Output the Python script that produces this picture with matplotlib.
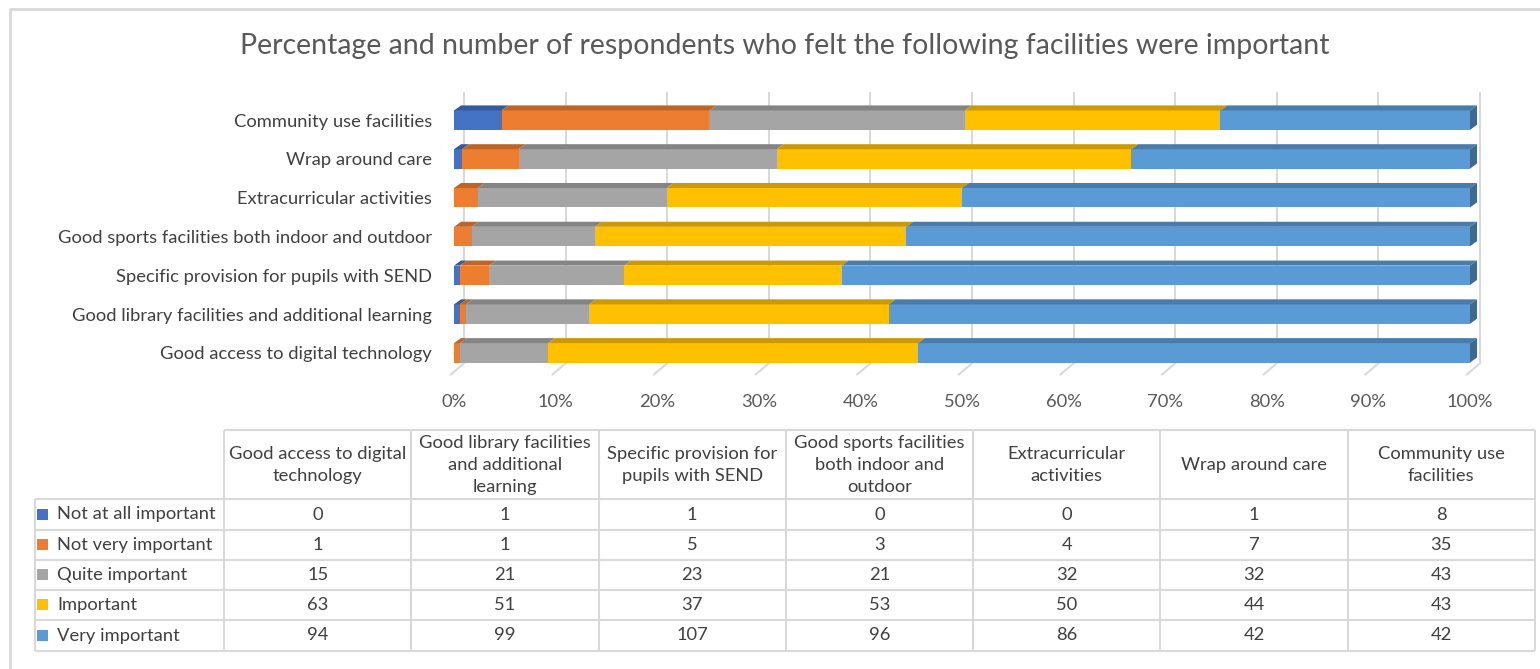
import matplotlib
matplotlib.use("Agg")
import matplotlib.pyplot as plt
from matplotlib.patches import Polygon, Rectangle
import numpy as np

plt.rcParams['font.family'] = ['Lato', 'DejaVu Sans']

facilities = ['Good access to digital technology',
              'Good library facilities and additional learning',
              'Specific provision for pupils with SEND',
              'Good sports facilities both indoor and outdoor',
              'Extracurricular activities',
              'Wrap around care',
              'Community use facilities']
header_labels = ['Good access to digital\ntechnology',
                 'Good library facilities\nand additional\nlearning',
                 'Specific provision for\npupils with SEND',
                 'Good sports facilities\nboth indoor and\noutdoor',
                 'Extracurricular\nactivities',
                 'Wrap around care',
                 'Community use\nfacilities']
levels = ['Not at all important', 'Not very important', 'Quite important',
          'Important', 'Very important']
not_at_all = [0, 1, 1, 0, 0, 1, 8]
not_very = [1, 1, 5, 3, 4, 7, 35]
quite = [15, 21, 23, 21, 32, 32, 43]
important = [63, 51, 37, 53, 50, 44, 43]
very = [94, 99, 107, 96, 86, 42, 42]
ticks = [0, 10, 20, 30, 40, 50, 60, 70, 80, 90, 100]

colors = ['#4472C4', '#ED7D31', '#A5A5A5', '#FFC000', '#5B9BD5']

counts = np.array([not_at_all, not_very, quite, important, very], dtype=float)
pct = counts / counts.sum(axis=0) * 100

W, H = 1540, 669
fig = plt.figure(figsize=(W / 100, H / 100), dpi=100)
fig.patch.set_facecolor('white')


def box(l, t, r, b):
    return [l / W, 1 - b / H, (r - l) / W, (b - t) / H]


def shade(c, f):
    rgb = np.array(matplotlib.colors.to_rgb(c))
    return tuple(rgb * f)


# outer frame
frame = fig.add_axes([0, 0, 1, 1])
frame.set_xlim(0, W)
frame.set_ylim(H, 0)
frame.axis('off')
frame.plot([10, 10, W + 5], [H + 5, 9, 9], color='#d9d9d9', lw=2, solid_capstyle='butt')

# title
fig.text(785 / W, 1 - 46 / H,
         'Percentage and number of respondents who felt the following facilities were important',
         ha='center', va='center', fontsize=20.5, color='#595959')

# 3d-ish stacked bar chart
ax = fig.add_axes(box(454, 93, 1470, 380))
ax.set_xlim(0, 100)
ax.set_ylim(-0.7, 6.7)
ax.patch.set_alpha(0)
for s in ax.spines.values():
    s.set_visible(False)

bh = 0.5
ddx, ddy = 0.69, 0.13        # bar depth offset
gdx, gfx = 0.98, -0.3        # gridline back / floor front x offset
floor_back, floor_front = -0.27, -0.555

for v in ticks:
    ax.plot([v + gdx, v + gdx], [floor_back, 6.7], color='#d9d9d9', lw=1.5, zorder=0, clip_on=False)
    ax.plot([v + gdx, v + gfx], [floor_back, floor_front], color='#d9d9d9', lw=1.5, zorder=0, clip_on=False)

y = np.arange(len(facilities))
left = np.zeros(len(facilities))
for k in range(len(levels)):
    ax.barh(y, pct[k], left=left, height=bh, color=colors[k], edgecolor='none', zorder=2)
    for i in range(len(facilities)):
        w = pct[k][i]
        if w <= 0:
            continue
        l = left[i]
        top = y[i] + bh / 2
        ax.add_patch(Polygon([(l, top), (l + w, top), (l + w + ddx, top + ddy), (l + ddx, top + ddy)],
                             closed=True, facecolor=shade(colors[k], 0.8), edgecolor='none',
                             zorder=2, clip_on=False))
    left = left + pct[k]

# right side faces on last segment
for i in range(len(facilities)):
    r = left[i]
    bot = y[i] - bh / 2
    top = y[i] + bh / 2
    ax.add_patch(Polygon([(r, bot), (r, top), (r + ddx, top + ddy), (r + ddx, bot + ddy)],
                         closed=True, facecolor=shade(colors[4], 0.68), edgecolor='none',
                         zorder=2, clip_on=False))

ax.set_xticks(ticks)
ax.set_xticklabels([f'{t}%' for t in ticks], fontsize=13.2, color='#595959')
ax.set_yticks(y)
ax.set_yticklabels(facilities, fontsize=13.2, color='#404040')
ax.tick_params(length=0)
ax.tick_params(axis='x', pad=10)
ax.tick_params(axis='y', pad=16)

# data table
col_edges = np.linspace(224, 1535, len(facilities) + 1)
row_edges = [499, 530, 560, 590, 620, 651]
grid = dict(color='#d9d9d9', lw=1.5, solid_capstyle='butt')
frame.plot([224, 1535], [430, 430], **grid)
for x in col_edges:
    frame.plot([x, x], [430, 651], **grid)
for r in row_edges:
    frame.plot([35, 1535], [r, r], **grid)
frame.plot([35, 35], [499, 651], **grid)

for j, lab in enumerate(header_labels):
    cx = (col_edges[j] + col_edges[j + 1]) / 2
    frame.text(cx, 465, lab, ha='center', va='center', fontsize=13.2, color='#404040',
               linespacing=1.45)

for k, lev in enumerate(levels):
    cy = (row_edges[k] + row_edges[k + 1]) / 2
    frame.add_patch(Rectangle((37, cy - 6), 11, 11, facecolor=colors[k], edgecolor='none'))
    frame.text(57, cy, lev, ha='left', va='center', fontsize=13.2, color='#404040')
    for j in range(len(facilities)):
        cx = (col_edges[j] + col_edges[j + 1]) / 2
        frame.text(cx, cy, f'{int(counts[k][j])}', ha='center', va='center', fontsize=13.2,
                   color='#404040')

fig.savefig('out.png', dpi=100, facecolor='white')
